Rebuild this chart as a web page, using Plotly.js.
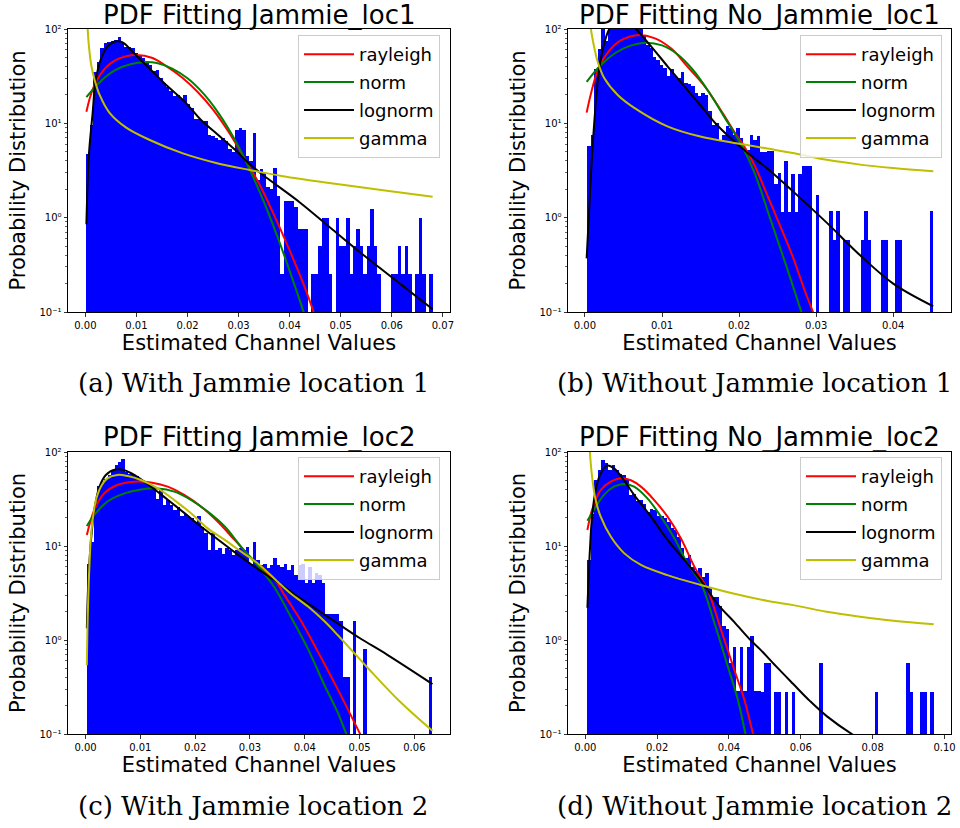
<!DOCTYPE html>
<html><head><meta charset="utf-8">
<script src="https://cdn.plot.ly/plotly-3.0.1.min.js"></script>
<style>html,body{margin:0;padding:0;background:#fff}</style>
</head><body><div id="chart" style="width:960px;height:828px"></div>
<script>
// ---------- histogram data (100 bins each) ----------
const rangeA = [0.0002, 0.0680];
const countsA = [4.7,9.7,35,45,63,71,72,74,77,82, 71,65,65,63,56,53,49,44,42,36,
 37,30,27,24,22,19.5,20,18,20,16, 14.5,11,11,10.5,10.5,7.5,7.3,7,6.7,7,
 6.5,5.3,5,8.5,9,8.5,4.5,4.0,7.9,2.5, 3.3,3.0,2.1,2.0,3.4,1.7,0.25,1.5,1.5,1.5,
 1.3,0.75,0.75,0.75,0,0.25,0.25,0.5,1.0,1.0, 0.25,0,1.0,0.5,0.5,1.0,0.25,0.5,0.75,0.5,
 0.25,0.5,1.25,0.5,0.25,0,0,0,0.25,0.25, 0.5,0.25,0.5,0.25,0,0.25,1.0,0.25,0,0.25];
const rangeB = [0.0003, 0.0452];
const countsB = [5.8,7.5,38,62,100,75,112,118,125,128, 125,120,115,112,108,102,85,68,63,51,
 47,42,38.6,31.5,38,32,30,35,27,26, 25,21,19.4,21,20,13.4,9.7,10,6.5,7.6,
 9.3,8.9,7.6,8.9,7,5.5,5.2,7.5,6.7,7.3, 5.0,5.0,5.1,5.1,2.3,3.0,1.15,4.0,1.15,2.9,
 1.15,2.9,3.5,3.5,3.5,0,1.75,0,0,0, 1.17,0.585,1.17,0,0.585,0.585,0,0,0,0.585,
 1.17,0.585,0,0,0,0.585,0.585,0,0,0.585, 0.585,0,0,0,0,0,0,0,0,1.17];
const rangeC = [0.00024, 0.0633];
const countsC = [6.5,11,28,43,48,52,57,64,73,79, 85,62,59,57,55,50,48,46,45,43,
 32,39,27,31,27,24,26,21,22,20.5, 19.7,18,21,16,13.6,9,13.6,9,9.5,8.3,
 9.5,9,8,9,9.5,9,9.8,6.5,11,7.1, 6.3,6.5,5.8,6.3,7.4,6.3,6.0,6.5,5.5,6.3,
 4.9,6.3,6.5,4.0,6.0,4.0,5.1,4.9,4.0,1.9, 1.9,1.9,1.9,1.6,0.4,0.4,0,1.6,0,0,
 0.8,0,0,0,0,0,0,0,0,0, 0,0,0,0,0,0,0,0,0,0.4];
const rangeD = [0.0006, 0.0970];
const countsD = [7.1,22,50,64,82,76,64,73,64,59, 57,52,35,36,30,31,28,23,25,24,
 21,21,19.7,18,15.4,14.8,12.6,9.5,7.4,8, 6,5.4,5.8,4.7,5.1,3.7,2.9,2.9,2.3,1.4,
 1.3,0.57,0.85,0.29,0.85,0.29,0.85,1.1,0.29,0.29, 0.28,0.565,0.565,0,0.28,0.28,0,0.28,0,0.28,
 0,0,0,0,0,0,0,0.565,0,0, 0,0,0,0,0,0,0,0,0,0,
 0,0,0,0.28,0,0,0,0,0,0, 0,0,0.565,0.28,0,0,0.28,0.28,0,0.28];

// ---------- fitted curves ----------
const rayA_x = [0.0002,0.001,0.002,0.004,0.006,0.008,0.010,0.013,0.016,0.019,0.022,0.025,0.028,0.031,0.034,0.037,0.040,0.043,0.0455];
const rayA_y = [13.3,19.5,27,39,47,51.5,53,49.5,40,30.5,21.5,14,8.2,4.4,2.3,1.05,0.45,0.18,0.075];
const normA_x = [0.0002,0.003,0.006,0.009,0.0115,0.014,0.017,0.020,0.023,0.026,0.029,0.032,0.035,0.038,0.041,0.0435];
const normA_y = [19,28,37,42.5,44.5,43.5,38,30,21,13,7.1,3.4,1.45,0.55,0.19,0.075];
const lognA_x = [0.0002,0.0007,0.0014,0.002,0.003,0.0043,0.006,0.0073,0.0089,0.0105,0.0128,0.0161,0.0194,0.0226,0.0259,0.0292,0.0324,0.0357,0.042,0.0485,0.055,0.0616,0.068];
const lognA_y = [0.85,4.7,12.4,28,47,65,74,72,60,49,37,24.7,17.1,10.9,7.6,5.3,3.6,2.6,1.45,0.74,0.38,0.2,0.107];
const gamA_x = [0.0002,0.0005,0.0008,0.0012,0.0018,0.0028,0.0047,0.008,0.0125,0.0191,0.0256,0.0322,0.0387,0.0485,0.0583,0.068];
const gamA_y = [300,90,58,40,29,20,13,9,6.7,4.8,3.8,3.2,2.75,2.3,1.95,1.67];

const rayB_x = [0.00022,0.0008,0.0017,0.003,0.0047,0.0068,0.009,0.0112,0.0133,0.0155,0.0177,0.0198,0.0205,0.022,0.0237,0.025,0.027,0.0285,0.0296,0.031];
const rayB_y = [13,21,37,57,76,86,80,62,40,25,13.5,7.2,6,3.6,1.7,0.95,0.38,0.17,0.1,0.05];
const normB_x = [0.00022,0.002,0.004,0.006,0.0079,0.010,0.012,0.014,0.016,0.018,0.0205,0.022,0.024,0.026,0.028,0.029];
const normB_y = [27.5,41,56,67,71.5,67,54,37,22,12,5.5,3.0,1.0,0.33,0.105,0.059];
const lognB_x = [0.00022,0.00054,0.00087,0.00122,0.00165,0.00208,0.00252,0.00317,0.0045,0.0055,0.00663,0.00858,0.01074,0.0129,0.0151,0.0173,0.0194,0.0216,0.0237,0.027,0.0314,0.0357,0.040,0.0452];
const lognB_y = [0.37,1.17,3.95,10.5,27.9,49.3,71,100,130,125,100,65.5,40,24.7,15.1,9.3,6.4,4.5,3.3,1.9,0.88,0.4,0.2,0.115];
const gamB_x = [0.0003,0.00078,0.00122,0.00165,0.00252,0.00425,0.0064,0.0107,0.0151,0.0194,0.0237,0.027,0.0314,0.0357,0.040,0.0452];
const gamB_y = [300,100,63,45,30,20,14.6,9.3,7.2,6.2,5.4,4.85,4.1,3.65,3.36,3.1];

const rayC_x = [0.00024,0.0016,0.0034,0.0058,0.0089,0.0119,0.015,0.018,0.0211,0.0241,0.0272,0.0302,0.0333,0.035,0.0363,0.0393,0.0424,0.046,0.0501,0.052];
const rayC_y = [13.1,24.2,36.3,44.6,48.3,47.5,42.8,34.9,26.2,18.2,11.6,7.5,5.0,4.0,3.0,1.6,0.75,0.3,0.1,0.06];
const normC_x = [0.00024,0.0016,0.004,0.0071,0.0101,0.0132,0.0162,0.0193,0.0223,0.0254,0.0284,0.0314,0.0345,0.0375,0.0406,0.0436,0.046,0.0476,0.049];
const normC_y = [16.3,21.4,29.7,36.3,40,41,37.9,30.8,23.2,16.1,9.8,6.2,3.6,1.75,0.8,0.33,0.17,0.1,0.065];
const lognC_x = [0.00024,0.0005,0.001,0.0016,0.0025,0.0037,0.0055,0.0071,0.0089,0.0119,0.015,0.018,0.0211,0.0241,0.0272,0.0302,0.0333,0.0348,0.038,0.042,0.046,0.050,0.055,0.0633];
const lognC_y = [1.33,4,11.6,24,42,57,65,64,57,43,31,22.5,16,11.8,8.6,6.4,4.8,4.2,3.1,2.15,1.5,1.05,0.7,0.34];
const gamC_x = [0.00024,0.0004,0.0007,0.0011,0.0019,0.0028,0.004,0.0058,0.0077,0.0101,0.0132,0.0162,0.0193,0.0223,0.0254,0.0284,0.0314,0.0348,0.0375,0.0406,0.0436,0.046,0.0513,0.0574,0.0633];
const gamC_y = [0.54,1.77,6.0,14.8,30.8,42.8,52.5,57,55.5,50.4,41,30.8,22.2,15.4,11.6,8.7,6.55,4.3,3.1,2.27,1.58,1.13,0.52,0.22,0.108];

const rayD_x = [0.0006,0.0019,0.0043,0.0071,0.0099,0.0127,0.0155,0.0192,0.0229,0.0266,0.0304,0.0341,0.0378,0.0415,0.0443,0.0467,0.048];
const rayD_y = [14.8,24.2,39.4,48.3,52.5,50,42.8,30.8,20.5,12.1,6.0,3.4,1.28,0.48,0.23,0.1,0.065];
const normD_x = [0.0006,0.0024,0.0052,0.008,0.0108,0.0136,0.0173,0.0211,0.0248,0.0285,0.0322,0.036,0.0397,0.0425,0.0446,0.046];
const normD_y = [18.6,24.2,35,42.8,45.7,42.8,32.1,20.5,12.1,6.5,4.0,1.5,0.52,0.23,0.1,0.06];
const lognD_x = [0.0006,0.0009,0.0013,0.0019,0.0029,0.0043,0.0061,0.008,0.0108,0.0136,0.0183,0.0229,0.0276,0.0322,0.0369,0.0415,0.0462,0.0486,0.053,0.0579,0.0625,0.0672,0.0742,0.080];
const lognD_y = [2.2,4.2,9.1,20.5,39.4,59.3,71.6,67,50,35,20.5,11.6,7.1,4.3,2.4,1.55,0.98,0.8,0.53,0.34,0.225,0.155,0.1,0.075];
const gamD_x = [0.0006,0.0013,0.0019,0.0029,0.0043,0.0071,0.0108,0.0155,0.0229,0.0322,0.0415,0.0508,0.0579,0.0672,0.0765,0.0858,0.097];
const gamD_y = [400,100,54.7,30.8,20.5,12.6,8.4,6.3,4.9,3.85,3.1,2.6,2.35,2.0,1.77,1.6,1.47];

// ---------- texts and ticks ----------
const titles = ['PDF Fitting Jammie_loc1','PDF Fitting No_Jammie_loc1','PDF Fitting Jammie_loc2','PDF Fitting No_Jammie_loc2'];
const captions = ['(a) With Jammie location 1','(b) Without Jammie location 1','(c) With Jammie location 2','(d) Without Jammie location 2'];
const seriesNames = ['rayleigh','norm','lognorm','gamma'];
const xTickA = [0,0.01,0.02,0.03,0.04,0.05,0.06,0.07], xLabA = ['0.00','0.01','0.02','0.03','0.04','0.05','0.06','0.07'];
const xTickB = [0,0.01,0.02,0.03,0.04], xLabB = ['0.00','0.01','0.02','0.03','0.04'];
const xTickC = [0,0.01,0.02,0.03,0.04,0.05,0.06], xLabC = ['0.00','0.01','0.02','0.03','0.04','0.05','0.06'];
const xTickD = [0,0.02,0.04,0.06,0.08,0.10], xLabD = ['0.00','0.02','0.04','0.06','0.08','0.10'];
const yTicks = [0.1,1,10,100], yLabels = ['10⁻¹','10⁰','10¹','10²'];
const yMinor = [0.2,0.3,0.4,0.5,0.6,0.7,0.8,0.9,2,3,4,5,6,7,8,9,20,30,40,50,60,70,80,90];

// ---------- build ----------
const FONT = 'DejaVu Sans, sans-serif';
const colors = ['#ff0000','#008000','#000000','#bfbf00'];
const panels = [
  {range:rangeA, counts:countsA, curves:[[rayA_x,rayA_y],[normA_x,normA_y],[lognA_x,lognA_y],[gamA_x,gamA_y]], xr:[-0.0034,0.0714], xt:xTickA, xl:xLabA},
  {range:rangeB, counts:countsB, curves:[[rayB_x,rayB_y],[normB_x,normB_y],[lognB_x,lognB_y],[gamB_x,gamB_y]], xr:[-0.0022,0.0475], xt:xTickB, xl:xLabB},
  {range:rangeC, counts:countsC, curves:[[rayC_x,rayC_y],[normC_x,normC_y],[lognC_x,lognC_y],[gamC_x,gamC_y]], xr:[-0.0032,0.0665], xt:xTickC, xl:xLabC},
  {range:rangeD, counts:countsD, curves:[[rayD_x,rayD_y],[normD_x,normD_y],[lognD_x,lognD_y],[gamD_x,gamD_y]], xr:[-0.0048,0.1018], xt:xTickD, xl:xLabD}
];
const W = 960, H = 828;
const xDoms = [[68/W,450/W],[568/W,951/W]];
const yDoms = [[1-312/H,1-29/H],[1-734/H,1-452/H]];
const titleY = [15.5, 437], capY = [383, 806];
const capX = [253, 754], titleX = [259, 759.5];
const legRight = [440, 942], legTop = [35, 457];

const traces = [], layout = {
  width: W, height: H, margin:{l:0,r:0,t:0,b:0},
  paper_bgcolor:'#fff', plot_bgcolor:'#fff',
  font:{family:FONT, color:'#000', size:12}, annotations:[], showlegend:true, bargap:0
};
panels.forEach((p, k) => {
  const col = k % 2, row = Math.floor(k/2);
  const sfx = k === 0 ? '' : String(k+1);
  const xa = 'x'+sfx, ya = 'y'+sfx, lg = 'legend'+sfx;
  const n = p.counts.length, w = (p.range[1]-p.range[0])/n;
  const xs = p.counts.map((_, i) => p.range[0] + (i+0.5)*w);
  traces.push({type:'bar', x:xs, y:p.counts.map(v => v > 0 ? v : null), width:w,
    marker:{color:'#0000ff', line:{width:0}}, xaxis:xa, yaxis:ya, showlegend:false, hoverinfo:'skip'});
  p.curves.forEach((c, j) => {
    traces.push({type:'scatter', mode:'lines', x:c[0], y:c[1], name:seriesNames[j],
      line:{color:colors[j], width:2, shape:'spline', smoothing:1}, xaxis:xa, yaxis:ya,
      legend:lg, legendgroup:lg+'g'+j});
  });
  const common = {showline:true, mirror:true, linecolor:'#000', linewidth:1, ticks:'outside',
    ticklen:3.5, tickwidth:0.8, tickcolor:'#000', showgrid:false, zeroline:false,
    tickfont:{size:10, family:FONT, color:'#000'}};
  layout['xaxis'+sfx] = Object.assign({}, common, {domain:xDoms[col], anchor:ya, range:p.xr,
    tickmode:'array', tickvals:p.xt, ticktext:p.xl,
    title:{text:'Estimated Channel Values', font:{size:21, family:FONT, color:'#000'}, standoff:5}});
  layout['yaxis'+sfx] = Object.assign({}, common, {domain:yDoms[row], anchor:xa, type:'log', range:[-1,2],
    tickmode:'array', tickvals:yTicks, ticktext:yLabels,
    minor:{tickmode:'array', tickvals:yMinor, ticks:'outside', ticklen:2, tickwidth:0.6, tickcolor:'#000', showgrid:false},
    title:{text:'Probability Distribution', font:{size:21, family:FONT, color:'#000'}, standoff:8}});
  layout[lg] = {x:legRight[col]/W, y:1-legTop[row]/H, xanchor:'right', yanchor:'top',
    bgcolor:'rgba(255,255,255,0.8)', bordercolor:'#cccccc', borderwidth:1,
    font:{size:18, family:FONT, color:'#000'}, itemwidth:50, traceorder:'grouped', tracegroupgap:1.5};
  layout.annotations.push({text:titles[k], xref:'paper', yref:'paper', x:titleX[col]/W, y:1-titleY[row]/H,
    xanchor:'center', yanchor:'middle', showarrow:false, font:{size:26, family:FONT, color:'#000'}});
  layout.annotations.push({text:captions[k], xref:'paper', yref:'paper', x:capX[col]/W, y:1-capY[row]/H,
    xanchor:'center', yanchor:'middle', showarrow:false, font:{size:26, family:'DejaVu Serif, serif', color:'#000'}});
});
Plotly.newPlot('chart', traces, layout, {staticPlot:true, displayModeBar:false});
</script></body></html>
